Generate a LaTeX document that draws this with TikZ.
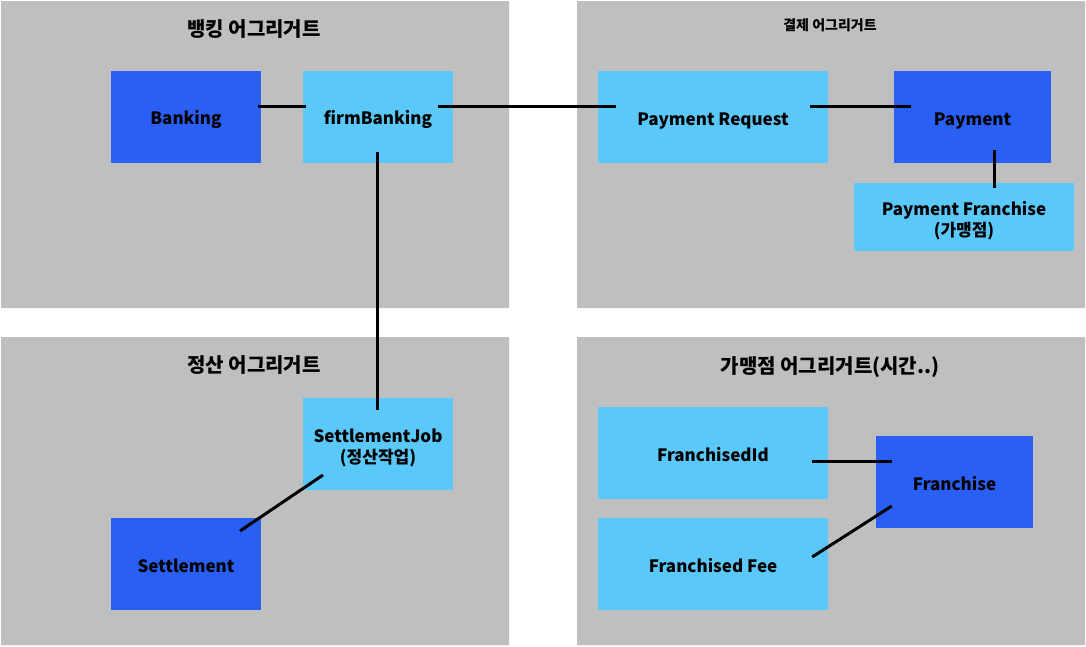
\documentclass[tikz,border=0pt]{standalone}
\usepackage{fontspec}
\setmainfont{Noto Sans CJK KR}
\definecolor{panelgray}{RGB}{191,191,191}
\definecolor{rootblue}{RGB}{42,95,245}
\definecolor{entblue}{RGB}{90,200,248}
\newcommand{\lift}{\rule{0pt}{21pt}}
\begin{document}
\begin{tikzpicture}[x=1pt,y=-1pt,
        panel/.style={fill=panelgray},
        box/.style={inner sep=0pt,minimum height=92pt,font=\fontsize{17}{21}\selectfont\bfseries,align=center,
                execute at begin node={\rule[-4pt]{0pt}{24pt}}},
        twoline/.style={execute at begin node={}},
        root/.style={box,fill=rootblue},
        ent/.style={box,fill=entblue},
        title/.style={font=\fontsize{20}{24}\selectfont\bfseries},
        link/.style={line width=3pt}]
                \useasboundingbox (0,0) rectangle (1086,646);
                % aggregates
                \fill[panel] (1,1) rectangle (509,308) (577,1) rectangle (1085,308);
                \fill[panel] (1,337) rectangle (509,645) (577,337) rectangle (1085,645);
                \node[title] (tbank) at (254,29) {뱅킹 어그리거트};
                \node[title,font=\fontsize{14}{17}\selectfont\bfseries] (tpay) at (830,25) {결제 어그리거트};
                \node[title] (tsettle) at (254,365) {정산 어그리거트};
                \node[title] (tfran) at (830,367) {가맹점 어그리거트(시간..)};
                % entities
                \node[root,minimum width=150pt] (banking) at (186,117) {Banking};
                \node[ent,minimum width=150pt] (firm) at (378,117) {firmBanking};
                \node[ent,minimum width=230pt] (preq) at (713,117) {Payment Request};
                \node[root,minimum width=157pt] (pay) at (972.5,117) {Payment};
                \node[ent,twoline,minimum width=220pt,minimum height=68pt] (pfran) at (964,217) {\lift Payment Franchise\\(가맹점)};
                \node[ent,twoline,minimum width=150pt] (sjob) at (378,444) {\lift SettlementJob\\(정산작업)};
                \node[root,minimum width=150pt] (settle) at (186,564) {Settlement};
                \node[ent,minimum width=230pt] (fid) at (713,453) {FranchisedId};
                \node[root,minimum width=157pt] (fran) at (954.5,482) {Franchise};
                \node[ent,minimum width=230pt] (ffee) at (713,564) {Franchised Fee};
                % links
                \draw[link] ([xshift=-3pt,yshift=11pt]banking.east) -- ([xshift=3pt,yshift=11pt]firm.west);
                \draw[link] ([xshift=-15pt,yshift=11pt]firm.east) -- ([xshift=18pt,yshift=11pt]preq.west);
                \draw[link] ([xshift=-18pt,yshift=11pt]preq.east) -- ([xshift=17pt,yshift=11pt]pay.west);
                \draw[link] ([xshift=21.5pt,yshift=13pt]pay.south) -- ([xshift=30pt,yshift=-5pt]pfran.north);
                \draw[link] ([xshift=-1pt,yshift=11pt]firm.south) -- ([xshift=-1pt,yshift=-12pt]sjob.north);
                \draw[link] ([xshift=-55pt,yshift=-31pt]sjob.center) -- ([xshift=54pt,yshift=33pt]settle.center);
                \draw[link] ([xshift=-16pt,yshift=-8pt]fid.east) -- ([xshift=16pt,yshift=21pt]fran.west);
                \draw[link] ([xshift=16pt,yshift=-24pt]fran.west) -- ([xshift=-16pt,yshift=7pt]ffee.east);
        \end{tikzpicture}
\end{document}
